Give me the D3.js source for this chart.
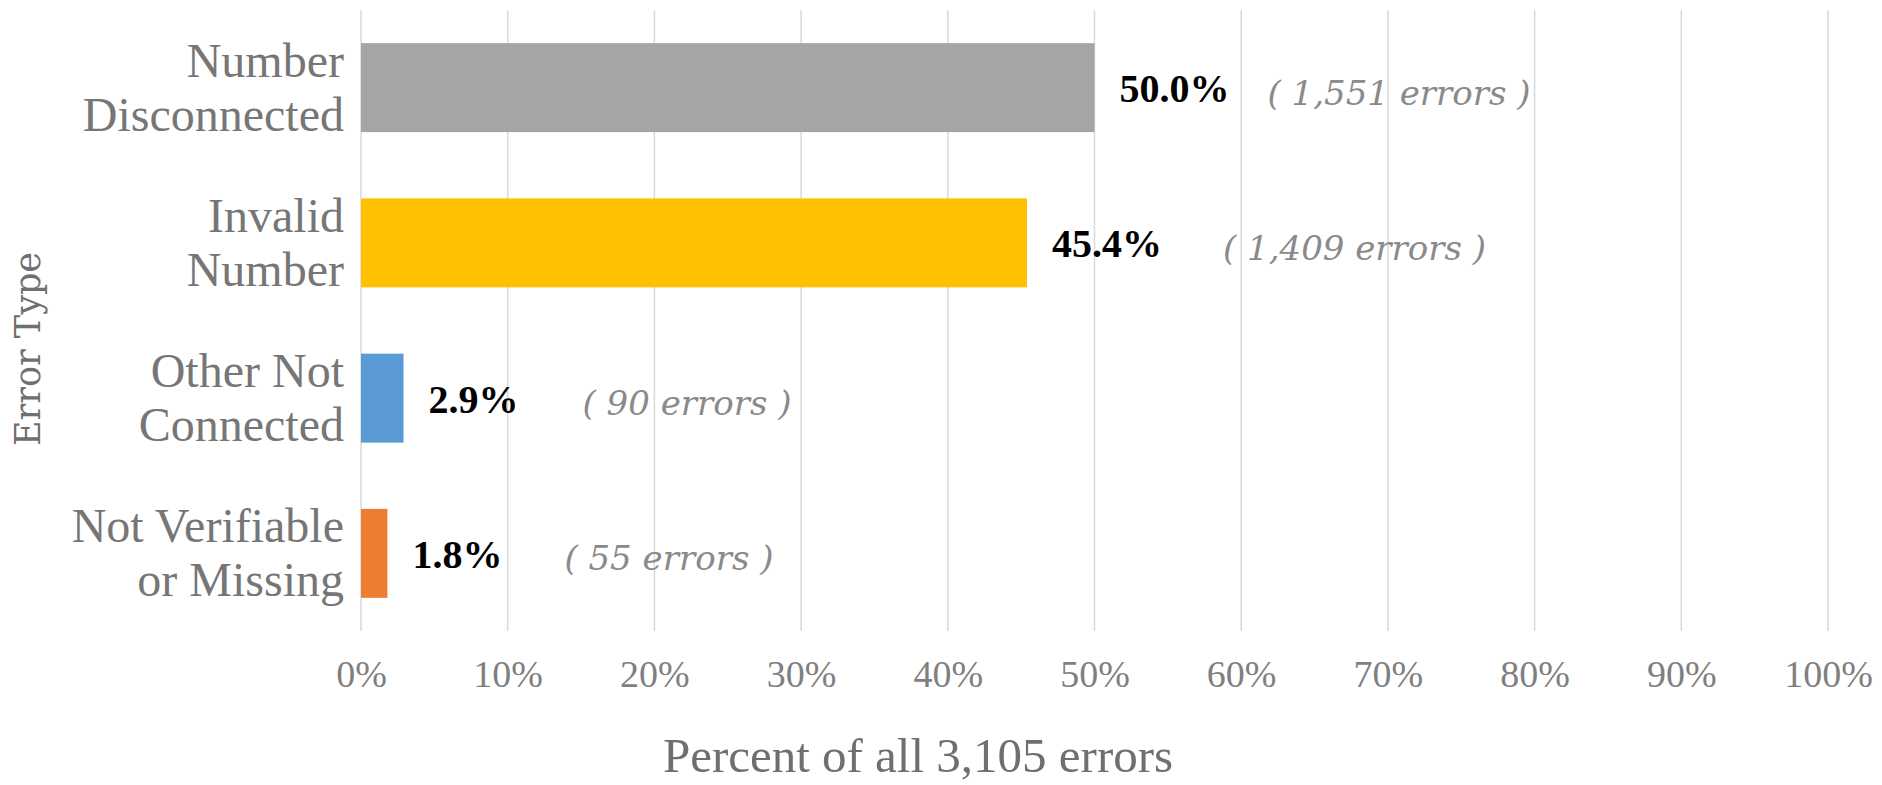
<!DOCTYPE html>
<html>
<head>
<meta charset="utf-8">
<script src="https://cdn.jsdelivr.net/npm/d3@7"></script>
<style>
  body { margin: 0; background: #fff; }
  svg { display: block; }
</style>
</head>
<body>
<div id="chart"></div>
<script>
// data
var categories = ["Number Disconnected", "Invalid Number", "Other Not Connected", "Not Verifiable or Missing"];
var labelLines = [["Number", "Disconnected"], ["Invalid", "Number"], ["Other Not", "Connected"], ["Not Verifiable", "or Missing"]];
var percents = [50.0, 45.4, 2.9, 1.8];
var counts = [1551, 1409, 90, 55];
var xTicks = [0, 10, 20, 30, 40, 50, 60, 70, 80, 90, 100];
var totalErrors = 3105;

var barColors = ["#A5A5A5", "#FFC000", "#5B9BD5", "#ED7D31"];
var countGap = [38, 61, 64, 62]; // spacing between bold label and count label

var W = 1882, H = 785;
var margin = {top: 10, left: 361, right: 54, bottom: 154};
var width = W - margin.left - margin.right,
    height = H - margin.top - margin.bottom;

var svg = d3.select("#chart")
  .append("svg")
  .attr("width", W)
  .attr("height", H);

var g = svg.append("g")
  .attr("transform", "translate(" + margin.left + "," + margin.top + ")");

var x = d3.scaleLinear()
  .domain([0, 100])
  .range([0, width]);

var y = d3.scaleBand()
  .domain(categories)
  .range([0, height])
  .paddingInner(0.427)
  .paddingOuter(0.2135);

// vertical gridlines
g.selectAll(".grid")
  .data(xTicks)
  .enter().append("line")
  .attr("class", "grid")
  .attr("x1", function(d) { return x(d); })
  .attr("x2", function(d) { return x(d); })
  .attr("y1", 0)
  .attr("y2", height)
  .attr("stroke", "#d9d9d9")
  .attr("stroke-width", 1.5);

// x axis (labels only)
var xAxis = d3.axisBottom(x)
  .tickValues(xTicks)
  .tickSize(0)
  .tickPadding(0)
  .tickFormat(function(d) { return d + "%"; });

var xg = g.append("g")
  .attr("transform", "translate(0," + height + ")")
  .call(xAxis);
xg.select(".domain").remove();
xg.selectAll("text")
  .attr("y", 56)
  .attr("dy", 0)
  .style("font-family", "'Liberation Serif', serif")
  .style("font-size", "38px")
  .style("fill", "#7f7f7f");

// bars
g.selectAll(".bar")
  .data(categories)
  .enter().append("rect")
  .attr("class", "bar")
  .attr("x", x(0))
  .attr("y", function(d) { return y(d); })
  .attr("width", function(d, i) { return x(percents[i]) - x(0); })
  .attr("height", y.bandwidth())
  .attr("fill", function(d, i) { return barColors[i]; });

// category labels
categories.forEach(function(c, i) {
  var cy = y(c) + y.bandwidth() / 2;
  var t = g.append("text")
    .attr("x", -17)
    .attr("y", cy)
    .attr("text-anchor", "end")
    .style("font-family", "'Liberation Serif', serif")
    .style("font-size", "48px")
    .style("fill", "#767676");
  labelLines[i].forEach(function(line, j) {
    t.append("tspan")
      .attr("x", -17)
      .attr("y", cy - 11 + j * 54)
      .text(line);
  });
});

// value labels + counts
var fmt = d3.format(",");
categories.forEach(function(c, i) {
  var cy = y(c) + y.bandwidth() / 2;
  var v = g.append("text")
    .attr("x", x(percents[i]) + 25)
    .attr("y", cy + 14.5)
    .style("font-family", "'Liberation Serif', serif")
    .style("font-weight", "bold")
    .style("font-size", "40px")
    .style("fill", "#000")
    .text(percents[i].toFixed(1) + "%");
  var vEnd = x(percents[i]) + 25 + v.node().getComputedTextLength();
  g.append("text")
    .attr("x", vEnd + countGap[i])
    .attr("y", cy + 17)
    .style("font-family", "'DejaVu Serif', serif")
    .style("font-style", "italic")
    .style("font-size", "34px")
    .style("fill", "#8a8a8a")
    .text("( " + fmt(counts[i]) + " errors )");
});

// axis titles
svg.append("text")
  .attr("x", 918)
  .attr("y", 772)
  .attr("text-anchor", "middle")
  .style("font-family", "'Liberation Serif', serif")
  .style("font-size", "49px")
  .style("fill", "#6f6f6f")
  .text("Percent of all " + fmt(totalErrors) + " errors");

svg.append("text")
  .attr("transform", "translate(40,349) rotate(-90)")
  .attr("text-anchor", "middle")
  .style("font-family", "'DejaVu Serif', serif")
  .style("font-size", "35px")
  .style("fill", "#6f6f6f")
  .text("Error Type");
</script>
</body>
</html>
